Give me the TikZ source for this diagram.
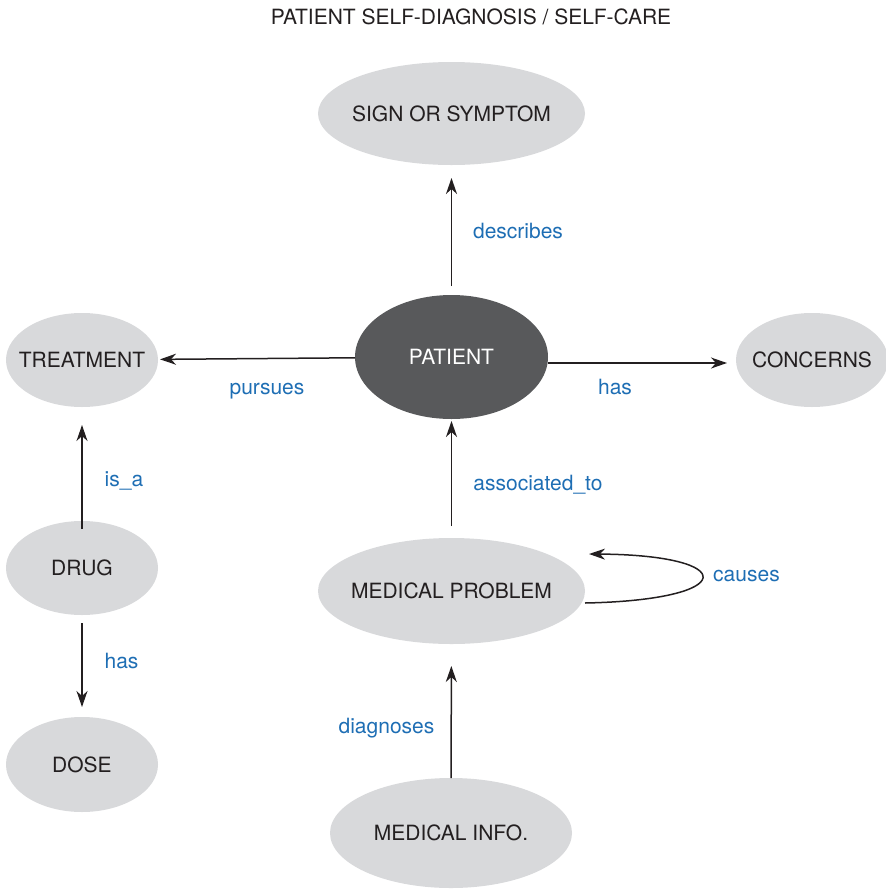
\documentclass[tikz,border=0pt]{standalone}
\usepackage{fontspec}
\setmainfont{TeX Gyre Heros}
\usetikzlibrary{shapes.geometric,arrows.meta}
\definecolor{bubble}{RGB}{216,217,219}
\definecolor{darkbubble}{RGB}{88,89,91}
\definecolor{linkblue}{RGB}{30,110,180}
\definecolor{ink}{RGB}{35,31,32}

\begin{document}
\begin{tikzpicture}[x=1pt,y=-1pt,
  concept/.style={ellipse,fill=bubble,text=ink,inner sep=-40pt,outer sep=0pt,
    font=\fontsize{21}{24}\selectfont},
  rel/.style={text=linkblue,anchor=base,font=\fontsize{21}{24}\selectfont},
  link/.style={draw=ink,line width=1.5pt,-{Stealth[length=16pt,width=11pt,inset=5pt]}}]
\useasboundingbox (0,0) rectangle (886,892);
\node[anchor=base,text=ink,font=\fontsize{21}{24}\selectfont] (title) at (471,24) {PATIENT SELF-DIAGNOSIS / SELF-CARE};

\node[concept,minimum width=267pt,minimum height=103pt] (sign) at (451.5,113.5) {SIGN OR SYMPTOM};
\node[concept,fill=darkbubble,text=white,minimum width=193pt,minimum height=124pt] (patient) at (451.5,357) {PATIENT};
\node[concept,minimum width=152pt,minimum height=94pt] (treat) at (82,360) {TREATMENT};
\node[concept,minimum width=152pt,minimum height=94pt] (concerns) at (812,360) {CONCERNS};
\node[concept,minimum width=152pt,minimum height=94pt] (drug) at (82,568) {DRUG};
\node[concept,minimum width=152pt,minimum height=95pt] (dose) at (82,764.5) {DOSE};
\node[concept,minimum width=267pt,minimum height=106pt] (problem) at (451.5,591) {MEDICAL PROBLEM};
\node[concept,minimum width=242pt,minimum height=110pt] (info) at (451,833) {MEDICAL INFO.};

% relations
\draw[link,shorten <=9pt,shorten >=13pt] (patient) -- (sign);
\draw[link,shorten >=2pt] (patient) -- (treat);
\draw[link,shorten >=9pt] ([yshift=-6pt]patient.east) -- ([yshift=-6pt]patient.east -| concerns.west);
\draw[link,shorten <=12pt,shorten >=2pt] (problem) -- (patient);
\draw[link,shorten <=-8pt,shorten >=18pt] (drug) -- (treat);
\draw[link,shorten <=8pt,shorten >=10pt] (drug) -- (dose);
\draw[link,shorten >=22pt] (info) -- (problem);
\draw[link] ([yshift=-12pt]problem.east) .. controls (740,600) and (740,555) .. ([xshift=4pt,yshift=37pt]problem.east);

\node[rel] (describes) at (518,238) {describes};
\node[rel] (pursues) at (267,394) {pursues};
\node[rel] (hasright) at (615,394) {has};
\node[rel] (assoc) at (538,490) {associated\_to};
\node[rel] (causes) at (746.5,581) {causes};
\node[rel] (isa) at (124,486) {is\_a};
\node[rel] (hasdose) at (121.5,668) {has};
\node[rel] (diagnoses) at (386.5,733) {diagnoses};
\end{tikzpicture}
\end{document}
